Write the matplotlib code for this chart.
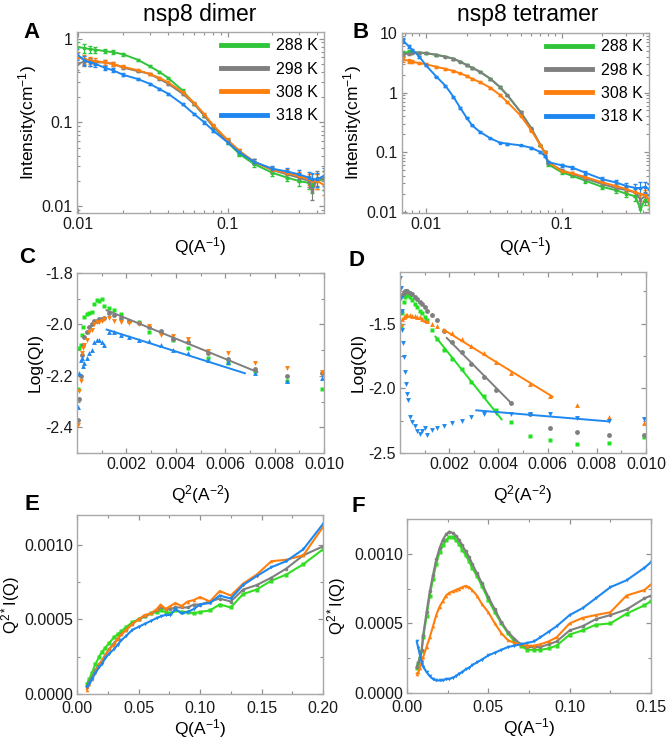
import matplotlib
matplotlib.use("Agg")
import matplotlib.pyplot as plt
from matplotlib.lines import Line2D
from matplotlib.ticker import FuncFormatter, LogLocator, NullFormatter
import numpy as np

plt.rcParams['font.family'] = ['Liberation Sans', 'DejaVu Sans']
plt.rcParams['mathtext.fontset'] = 'custom'
plt.rcParams['mathtext.rm'] = 'Liberation Sans'
plt.rcParams['mathtext.it'] = 'Liberation Sans:italic'
plt.rcParams['mathtext.bf'] = 'Liberation Sans:bold'
plt.rcParams['mathtext.default'] = 'regular'
plt.rcParams['axes.unicode_minus'] = False

temps = ['288 K', '298 K', '308 K', '318 K']
colors = ['#2fc43a', '#7f7f7f', '#ff7f0e', '#1e88f0']
marker_green = '#22e022'

# ---- A: nsp8 dimer, I(Q) ----
q_A = [0.0098, 0.011, 0.012, 0.013, 0.015, 0.017, 0.02, 0.025, 0.03, 0.035, 0.04, 0.05,
       0.06, 0.07, 0.08, 0.1, 0.12, 0.15, 0.2, 0.25, 0.3, 0.35, 0.37, 0.4, 0.44]
I_A_288 = [0.80, 0.77, 0.75, 0.74, 0.71, 0.69, 0.65, 0.56, 0.47, 0.40, 0.34, 0.24,
           0.166, 0.12, 0.09, 0.058, 0.042, 0.032, 0.025, 0.022, 0.020, 0.019, 0.018, 0.020, 0.021]
I_A_298 = [0.50, 0.53, 0.53, 0.52, 0.52, 0.50, 0.45, 0.41, 0.38, 0.33, 0.29, 0.22,
           0.165, 0.12, 0.09, 0.060, 0.045, 0.034, 0.027, 0.024, 0.022, 0.020, 0.015, 0.022, 0.021]
I_A_308 = [0.60, 0.57, 0.55, 0.54, 0.52, 0.50, 0.46, 0.42, 0.38, 0.34, 0.30, 0.23,
           0.17, 0.125, 0.093, 0.062, 0.046, 0.034, 0.027, 0.025, 0.023, 0.021, 0.020, 0.020, 0.018]
I_A_318 = [0.65, 0.55, 0.52, 0.50, 0.45, 0.42, 0.37, 0.33, 0.29, 0.25, 0.22, 0.165,
           0.125, 0.10, 0.08, 0.058, 0.044, 0.034, 0.028, 0.026, 0.024, 0.022, 0.021, 0.021, 0.023]
relerr_A = [0.15, 0.12, 0.10, 0.08, 0.06, 0.05, 0.04, 0.03, 0.03, 0.03, 0.03, 0.03,
            0.03, 0.03, 0.04, 0.05, 0.06, 0.07, 0.08, 0.10, 0.12, 0.15, 0.20, 0.20, 0.25]

# ---- B: nsp8 tetramer, I(Q) ----
q_B = [0.0068, 0.0075, 0.008, 0.009, 0.01, 0.012, 0.014, 0.016, 0.018, 0.02, 0.022, 0.025,
       0.03, 0.035, 0.04, 0.05, 0.06, 0.07, 0.075, 0.08, 0.1, 0.12, 0.15, 0.2, 0.25, 0.3,
       0.35, 0.38, 0.41, 0.44]
I_B_288 = [4.6, 4.8, 4.8, 4.7, 4.6, 4.3, 4.0, 3.7, 3.3, 2.9, 2.6, 2.25,
           1.7, 1.25, 0.9, 0.47, 0.25, 0.13, 0.10, 0.062, 0.046, 0.040, 0.033, 0.026, 0.023, 0.020,
           0.018, 0.011, 0.016, 0.014]
I_B_298 = [4.4, 4.5, 4.6, 4.7, 4.6, 4.3, 4.0, 3.7, 3.3, 2.9, 2.6, 2.25,
           1.7, 1.25, 0.9, 0.47, 0.25, 0.13, 0.10, 0.066, 0.050, 0.043, 0.036, 0.029, 0.025, 0.023,
           0.021, 0.016, 0.018, 0.016]
I_B_308 = [3.6, 3.4, 3.3, 3.1, 3.0, 2.7, 2.5, 2.3, 2.1, 1.9, 1.7, 1.5,
           1.2, 0.92, 0.69, 0.41, 0.23, 0.13, 0.10, 0.068, 0.048, 0.044, 0.038, 0.031, 0.027, 0.024,
           0.021, 0.020, 0.019, 0.016]
I_B_318 = [7.5, 6.0, 5.2, 4.0, 2.9, 1.85, 1.3, 0.85, 0.55, 0.38, 0.28, 0.22,
           0.17, 0.145, 0.138, 0.13, 0.118, 0.10, 0.087, 0.068, 0.060, 0.055, 0.045, 0.035, 0.031, 0.027,
           0.025, 0.025, 0.026, 0.024]
relerr_B = [0.08, 0.06, 0.05, 0.04, 0.03, 0.03, 0.03, 0.03, 0.03, 0.03, 0.03, 0.03,
            0.03, 0.03, 0.03, 0.03, 0.03, 0.03, 0.03, 0.04, 0.05, 0.06, 0.07, 0.08, 0.10, 0.12,
            0.15, 0.25, 0.20, 0.20]

# ---- C / D: Guinier plots, log(QI) vs Q^2 ----
q2 = [0.00005, 0.0001, 0.00015, 0.0002, 0.00025, 0.0003, 0.0004, 0.0005, 0.0006, 0.0007,
      0.0008, 0.0009, 0.001, 0.0011, 0.0013, 0.0015, 0.0018, 0.0021, 0.0025, 0.0029,
      0.0034, 0.0039, 0.0045, 0.0053, 0.0061, 0.0072, 0.0085, 0.0099]
logQI_C_288 = [-2.25, -2.09, -2.08, -2.04, -2.01, -1.97, -1.96, -1.955, -1.95, -1.92,
               -1.905, -1.91, -1.90, -1.93, -1.935, -1.945, -1.96, -1.985, -1.99, -2.03,
               -2.03, -2.06, -2.09, -2.13, -2.15, -2.18, -2.22, -2.25]
logQI_C_298 = [-2.37, -2.29, -2.20, -2.12, -2.08, -2.05, -2.03, -2.01, -2.00, -1.985,
               -1.985, -1.98, -1.98, -1.975, -1.955, -1.965, -1.975, -1.985, -1.995, -2.01,
               -2.025, -2.055, -2.07, -2.11, -2.135, -2.175, -2.20, -2.19]
logQI_C_308 = [-2.39, -2.26, -2.22, -2.11, -2.09, -2.08, -2.06, -2.03, -2.02, -2.00,
               -1.99, -1.99, -1.985, -1.98, -1.975, -1.985, -1.99, -1.995, -2.00, -2.005,
               -2.04, -2.045, -2.055, -2.105, -2.11, -2.15, -2.17, -2.185]
logQI_C_318 = [-2.32, -2.19, -2.14, -2.13, -2.16, -2.15, -2.13, -2.11, -2.10, -2.07,
               -2.06, -2.06, -2.07, -2.08, -2.03, -2.03, -2.04, -2.05, -2.06, -2.065,
               -2.08, -2.10, -2.11, -2.14, -2.145, -2.19, -2.22, -2.21]
fit_C_298 = ([0.0012, 0.0073], [-1.945, -2.185])
fit_C_318 = ([0.0012, 0.0068], [-2.02, -2.19])

logQI_D_288 = [-1.52, -1.42, -1.33, -1.29, -1.28, -1.28, -1.29, -1.32, -1.35, -1.37,
               -1.40, -1.42, -1.45, -1.47, -1.55, -1.62, -1.70, -1.77, -1.85, -1.95,
               -2.06, -2.17, -2.26, -2.37, -2.40, -2.43, -2.42, -2.38]
logQI_D_298 = [-1.40, -1.28, -1.26, -1.25, -1.25, -1.25, -1.26, -1.27, -1.29, -1.31,
               -1.33, -1.35, -1.37, -1.40, -1.43, -1.47, -1.56, -1.64, -1.72, -1.81,
               -1.91, -2.01, -2.11, -2.20, -2.31, -2.34, -2.36, -2.36]
logQI_D_308 = [-1.50, -1.46, -1.45, -1.44, -1.43, -1.43, -1.43, -1.44, -1.44, -1.45,
               -1.45, -1.46, -1.47, -1.48, -1.50, -1.52, -1.546, -1.57, -1.62, -1.67,
               -1.73, -1.80, -1.88, -1.97, -2.06, -2.13, -2.22, -2.27]
q2_D_318 = [0.00002, 0.00004, 0.00006, 0.00008, 0.0001, 0.00013, 0.00016, 0.0002, 0.00024,
            0.00028, 0.00032, 0.0004, 0.0005, 0.0006, 0.0007, 0.0008, 0.0009, 0.001, 0.0011,
            0.0013, 0.0015, 0.0018, 0.0021, 0.0025, 0.0029, 0.0034, 0.0039, 0.0045, 0.0053,
            0.0061, 0.0072, 0.0085, 0.0099]
logQI_D_318 = [-1.15, -1.22, -1.30, -1.40, -1.55, -1.65, -1.76, -1.87, -1.97,
               -2.04, -2.09, -2.22, -2.26, -2.29, -2.33, -2.35, -2.33, -2.31, -2.36,
               -2.32, -2.31, -2.29, -2.27, -2.25, -2.22, -2.20, -2.19, -2.20, -2.20,
               -2.20, -2.23, -2.25, -2.24]
fit_D_288 = ([0.00144, 0.00413], [-1.60, -2.24])
fit_D_298 = ([0.0019, 0.0045], [-1.61, -2.11])
fit_D_308 = ([0.00177, 0.0062], [-1.546, -2.064])
fit_D_318 = ([0.0031, 0.0085], [-2.17, -2.256])

# ---- E: Kratky, dimer ----
q_E = [0.008, 0.01, 0.012, 0.015, 0.018, 0.02, 0.023, 0.026, 0.03, 0.033, 0.036, 0.04,
       0.045, 0.05, 0.055, 0.06, 0.065, 0.068, 0.072, 0.076, 0.08, 0.085, 0.09, 0.095,
       0.1, 0.108, 0.116, 0.125, 0.135, 0.146, 0.158, 0.17, 0.184, 0.2]
kr_E_288 = [0.00007, 0.0001, 0.00014, 0.0002, 0.00025, 0.00028, 0.00031, 0.00034, 0.00038, 0.0004,
            0.00042, 0.00045, 0.00048, 0.0005, 0.00052, 0.00054, 0.00055, 0.00056, 0.00055, 0.00054,
            0.00056, 0.00055, 0.00055, 0.00054, 0.00055, 0.00056, 0.0006, 0.00058, 0.00067, 0.0007,
            0.00076, 0.0008, 0.00087, 0.00097]
kr_E_298 = [0.00005, 0.00008, 0.00011, 0.00016, 0.0002, 0.00022, 0.00026, 0.0003, 0.00034, 0.00037,
            0.0004, 0.00043, 0.00047, 0.0005, 0.00052, 0.00054, 0.00056, 0.00058, 0.00057, 0.00057,
            0.00058, 0.00058, 0.00058, 0.0006, 0.0006, 0.00062, 0.00064, 0.00062, 0.0007, 0.00073,
            0.00078, 0.00084, 0.00093, 0.00099]
kr_E_308 = [0.00003, 0.00007, 0.0001, 0.00015, 0.0002, 0.00022, 0.00026, 0.0003, 0.00033, 0.00037,
            0.0004, 0.00043, 0.00047, 0.0005, 0.00053, 0.00054, 0.00057, 0.0006, 0.00057, 0.00059,
            0.00061, 0.00059, 0.00062, 0.00063, 0.00065, 0.00062, 0.00069, 0.00066, 0.00074, 0.0008,
            0.00089, 0.0009, 0.00093, 0.00112]
kr_E_318 = [0.00005, 0.00007, 0.0001, 0.00014, 0.00018, 0.0002, 0.00024, 0.00027, 0.0003, 0.00033,
            0.00036, 0.00039, 0.00043, 0.00045, 0.00047, 0.00049, 0.00051, 0.00052, 0.00053, 0.00053,
            0.00057, 0.00054, 0.00055, 0.00057, 0.0006, 0.00061, 0.00066, 0.00064, 0.00073, 0.00079,
            0.00085, 0.00089, 0.00097, 0.00114]

# ---- F: Kratky, tetramer ----
q_F = [0.006, 0.007, 0.008, 0.009, 0.01, 0.012, 0.014, 0.016, 0.018, 0.02, 0.022, 0.024,
       0.026, 0.028, 0.03, 0.032, 0.034, 0.036, 0.038, 0.04, 0.043, 0.046, 0.05, 0.054,
       0.058, 0.062, 0.066, 0.07, 0.074, 0.078, 0.082, 0.087, 0.092, 0.1, 0.108, 0.116,
       0.125, 0.135, 0.146, 0.15]
kr_F_288 = [0.00018, 0.00021, 0.00025, 0.0003, 0.0004, 0.00055, 0.0007, 0.00082, 0.00093, 0.00101,
            0.00106, 0.0011, 0.00112, 0.00112, 0.0011, 0.00107, 0.00103, 0.00099, 0.00095, 0.0009,
            0.00084, 0.00077, 0.00067, 0.00058, 0.0005, 0.00043, 0.00037, 0.00034, 0.00031, 0.00031,
            0.00031, 0.00032, 0.00034, 0.00042, 0.00045, 0.00049, 0.0005, 0.00057, 0.00063, 0.00066]
kr_F_298 = [0.00019, 0.00022, 0.00026, 0.00031, 0.00042, 0.00058, 0.00073, 0.00085, 0.00096, 0.00104,
            0.0011, 0.00114, 0.00116, 0.00115, 0.00113, 0.0011, 0.00106, 0.00102, 0.00098, 0.00093,
            0.00086, 0.00079, 0.00069, 0.0006, 0.00051, 0.00044, 0.00039, 0.00035, 0.00033, 0.00033,
            0.00033, 0.00035, 0.00037, 0.00045, 0.00048, 0.00053, 0.00056, 0.0006, 0.00068, 0.0007]
kr_F_308 = [0.00014, 0.00015, 0.00018, 0.00022, 0.00026, 0.00033, 0.0004, 0.00048, 0.00056, 0.00062,
            0.00066, 0.0007, 0.00072, 0.00073, 0.00074, 0.00075, 0.00076, 0.00077, 0.00076, 0.00074,
            0.0007, 0.00064, 0.00058, 0.0005, 0.00043, 0.00038, 0.00036, 0.00035, 0.00034, 0.00034,
            0.00035, 0.00037, 0.0004, 0.0005, 0.00054, 0.00056, 0.00058, 0.0007, 0.00074, 0.00078]
kr_F_318 = [0.00037, 0.00032, 0.00027, 0.00022, 0.00019, 0.00015, 0.00012, 0.0001, 0.00009, 0.00009,
            0.00009, 0.0001, 0.0001, 0.00011, 0.00012, 0.00014, 0.00015, 0.00017, 0.00018, 0.0002,
            0.00022, 0.00024, 0.00027, 0.00029, 0.00031, 0.00033, 0.00034, 0.00035, 0.00036, 0.00037,
            0.0004, 0.00044, 0.00048, 0.00056, 0.00061, 0.00068, 0.00076, 0.00081, 0.0009, 0.00094]

W, H = 666, 741


def box(x0, y0, x1, y1):
    # pixel box (left, top, right, bottom) -> figure fraction rect
    return [x0 / W, 1 - y1 / H, (x1 - x0) / W, (y1 - y0) / H]


def style(ax, xpad=3):
    for s in ax.spines.values():
        s.set_color('#a8a8a8')
        s.set_linewidth(1.0)
    ax.tick_params(which='both', direction='in', top=True, right=True,
                   color='#909090', labelsize=11.5, labelcolor='#1a1a1a', pad=3)
    ax.tick_params(axis='x', which='both', pad=xpad)
    ax.tick_params(which='major', length=3.5, width=0.9)
    ax.tick_params(which='minor', length=2, width=0.8)


fig = plt.figure(figsize=(W / 100, H / 100), dpi=100)
axA = fig.add_axes(box(77, 32, 324, 213))
axB = fig.add_axes(box(402, 33, 649, 213))
axC = fig.add_axes(box(77, 273, 324, 453))
axD = fig.add_axes(box(400, 272, 646, 453))
axE = fig.add_axes(box(77, 515, 323, 694))
axF = fig.add_axes(box(407, 519, 651, 693))

gfmt = FuncFormatter(lambda v, _: f'{v:g}')
legend_handles = [Line2D([], [], color=c, lw=3.5) for c in colors]

# A and B: scattering curves
for ax, q, curves, err, xlim, ylim in [
        (axA, q_A, [I_A_288, I_A_298, I_A_308, I_A_318], relerr_A, (0.0098, 0.443), (0.0083, 1.2)),
        (axB, q_B, [I_B_288, I_B_298, I_B_308, I_B_318], relerr_B, (0.0067, 0.44), (0.0095, 10))]:
    for I, c in zip(curves, colors):
        I = np.array(I)
        ax.errorbar(q, I, yerr=I * np.array(err), color=c, lw=1.4, marker='s', ms=1.5,
                    elinewidth=0.8, capsize=1.2)
    ax.set_xscale('log')
    ax.set_yscale('log')
    ax.set_xlim(*xlim)
    ax.set_ylim(*ylim)
    ax.xaxis.set_major_formatter(gfmt)
    ax.yaxis.set_major_formatter(gfmt)
    ax.xaxis.set_minor_formatter(NullFormatter())
    ax.yaxis.set_minor_locator(LogLocator(subs=np.arange(2, 10)))
    ax.set_xlabel('Q(A$^{-1}$)', fontsize=12.5, labelpad=2)
    ax.set_ylabel('Intensity(cm$^{-1}$)', fontsize=12.5, labelpad=2)
    ax.legend(legend_handles, temps, loc='upper right', frameon=False, fontsize=11.5,
              handlelength=2.9, handletextpad=0.55, labelspacing=0.52, borderaxespad=0.0)
    style(ax)

# C and D: Guinier plots
marker_styles = ['s', 'o', 'v', '^']
d_markers = ['s', 'o', '^', 'v']
mcolors = [marker_green, colors[1], colors[2], colors[3]]
for y, mk, c in zip([logQI_C_288, logQI_C_298, logQI_C_308, logQI_C_318], marker_styles, mcolors):
    axC.plot(q2, y, ls='none', marker=mk, ms=3.5, color=c, mec='none')
for fit, c in [(fit_C_298, colors[1]), (fit_C_318, colors[3])]:
    axC.plot(fit[0], fit[1], color=c, lw=1.4)

for qq, y, mk, c in zip([q2, q2, q2, q2_D_318],
                        [logQI_D_288, logQI_D_298, logQI_D_308, logQI_D_318],
                        d_markers, mcolors):
    axD.plot(qq, y, ls='none', marker=mk, ms=3.5, color=c, mec='none')
for fit, c in [(fit_D_288, '#22dd22'), (fit_D_298, colors[1]), (fit_D_308, colors[2]),
               (fit_D_318, colors[3])]:
    axD.plot(fit[0], fit[1], color=c, lw=1.4)

for ax, ylim, yt, ym in [(axC, (-2.5, -1.8), [-2.4, -2.2, -2.0, -1.8], [-2.5, -2.3, -2.1, -1.9]),
                         (axD, (-2.5, -1.1), [-2.5, -2.0, -1.5], [-2.25, -1.75, -1.25])]:
    ax.set_xlim(0, 0.0099)
    ax.set_ylim(*ylim)
    ax.set_xticks([0.002, 0.004, 0.006, 0.008, 0.010])
    ax.set_xticklabels(['0.002', '0.004', '0.006', '0.008', '0.010'])
    ax.set_xticks([0.001, 0.003, 0.005, 0.007, 0.009], minor=True)
    ax.set_yticks(yt)
    ax.set_yticklabels([f'{v:.1f}' for v in yt])
    ax.set_yticks(ym, minor=True)
    ax.set_xlabel('Q$^{2}$(A$^{-2}$)', fontsize=12.5, labelpad=8)
    ax.set_ylabel('Log(QI)', fontsize=12.5, labelpad=2)
    style(ax)

# E and F: Kratky plots
line_markers = ['s', 'o', '^', 'v']
kr_colors = ['#33dd22', colors[1], colors[2], colors[3]]
for ax, q, curves, xlim, ylim, xt, ylx in [
        (axE, q_E, [kr_E_288, kr_E_298, kr_E_308, kr_E_318], (0, 0.2), (0, 0.0012),
         [0, 0.05, 0.10, 0.15, 0.20], -0.225),
        (axF, q_F, [kr_F_288, kr_F_298, kr_F_308, kr_F_318], (0, 0.15), (0, 0.00125),
         [0, 0.05, 0.10, 0.15], -0.24)]:
    for y, mk, c in zip(curves, line_markers, kr_colors):
        ax.plot(q, y, color=c, lw=1.5, marker=mk, ms=2.6, mec='none')
    ax.set_xlim(*xlim)
    ax.set_ylim(*ylim)
    ax.set_xticks(xt)
    ax.set_xticklabels([f'{v:.2f}' for v in xt])
    ax.set_xticks([v + 0.025 for v in xt[:-1]], minor=True)
    ax.set_yticks([0, 0.0005, 0.0010])
    ax.set_yticklabels(['0.0000', '0.0005', '0.0010'])
    ax.set_yticks([0.00025, 0.00075], minor=True)
    ax.set_xlabel('Q(A$^{-1}$)', fontsize=12.5, labelpad=1)
    ax.set_ylabel('Q$^{2*}$I(Q)', fontsize=12)
    ax.yaxis.set_label_coords(ylx, 0.5)
    style(ax, xpad=5)

# titles and panel letters
fig.text(200 / W, 1 - 14 / H, 'nsp8 dimer', fontsize=16.5, ha='center', va='center')
fig.text(528 / W, 1 - 14 / H, 'nsp8 tetramer', fontsize=16.5, ha='center', va='center')
for letter, x, y in [('A', 31, 32), ('B', 361, 33), ('C', 27, 257),
                     ('D', 356, 260), ('E', 32, 505), ('F', 358, 506)]:
    fig.text(x / W, 1 - y / H, letter, fontsize=16, fontweight='bold', ha='center', va='center')

fig.savefig('out.png', dpi=100)
